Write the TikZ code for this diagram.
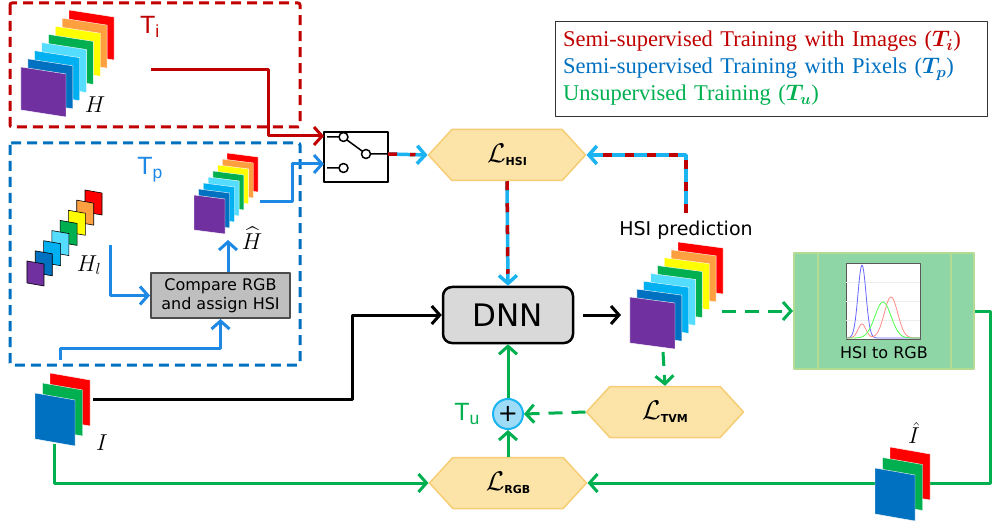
\RequirePackage{fix-cm}
\documentclass[tikz,border=0pt]{standalone}
\usepackage{amsmath,amssymb,bm}
\usepackage{fontspec}
\setmainfont{DejaVu Sans}
\newfontfamily\legendfont{Liberation Serif}
\newfontfamily\arialfont{Liberation Sans}
\usetikzlibrary{arrows.meta,shapes,calc}

\definecolor{tired}{HTML}{C00000}
\definecolor{tpblue}{HTML}{0070C0}
\definecolor{arrowblue}{HTML}{1E88E5}
\definecolor{hsiblue}{HTML}{1CB4F0}
\definecolor{tgreen}{HTML}{00B050}
\definecolor{lossfill}{HTML}{FCE4A8}
\definecolor{lossedge}{HTML}{F6CD75}
\definecolor{convfill}{HTML}{8FD6A6}
\definecolor{convedge}{HTML}{B3DC92}
\definecolor{plusfill}{HTML}{9DDBF7}
\definecolor{bred}{HTML}{FF0000}
\definecolor{borange}{HTML}{FFA040}
\definecolor{byellow}{HTML}{FFFF00}
\definecolor{bgreen}{HTML}{00B050}
\definecolor{bcyan}{HTML}{55DDFF}
\definecolor{blight}{HTML}{00B0F0}
\definecolor{bblue}{HTML}{0070C0}
\definecolor{bpurple}{HTML}{7030A0}

% stack of skewed bands: back corner, width, height, skew, step to front, colours, style
\newcommand{\bandstack}[9]{%
  \foreach \col [count=\k from 0] in {#8}
    \filldraw[fill=\col, #9] ({#1+\k*#6},{#2+\k*#7}) -- ++(#3,#5) -- ++(0,#4) -- ++(-#3,-#5) -- cycle;
}

\begin{document}
\begin{tikzpicture}[x=1pt,y=-1pt,line join=round]
        \useasboundingbox (0,0) rectangle (992,526);
        \tikzstyle{zonebox}=[dash pattern=on 10pt off 6pt, line width=3pt, rounded corners=2pt]
        \tikzstyle{tlabel}=[font=\arialfont\fontsize{25}{25}\selectfont, inner sep=0pt]
        \tikzstyle{sym}=[font=\fontsize{23}{23}\selectfont, inner sep=0pt]
        \tikzstyle{loss}=[signal, signal to=west and east, signal pointer angle=95, fill=lossfill, draw=lossedge, line width=1.5pt, minimum width=157pt, minimum height=51pt, inner sep=0pt, font=\fontsize{27}{27}\selectfont]
        \tikzstyle{chev}=[-{Straight Barb[length=8pt,width=18pt]}]
        \tikzstyle{wire}=[line width=3pt, chev]
        \tikzstyle{mixwire}=[line width=3.5pt, draw=hsiblue, chev, postaction={draw=tired, -, dash pattern=on 9pt off 13pt, shorten >=12pt}]
        \tikzstyle{gdash}=[dash pattern=on 14pt off 9pt]

        \draw[zonebox, draw=tired] (10,3) rectangle (300,127);
        \draw[zonebox, draw=tpblue] (10,143) rectangle (300,365);

        \draw node at (150,27) [tlabel, text=tired] (ti) {T\textsubscript{i}};
        \draw node at (150,170) [tlabel, text=arrowblue] (tp) {T\textsubscript{p}};
        \draw node at (467,414) [tlabel, text=tgreen] (tu) {T\textsubscript{u}};

        \bandstack{69}{10}{45}{43}{7}{-6.86}{8.14}{bred,borange,byellow,bgreen,bcyan,blight,bblue,bpurple}{draw=white,line width=0.4pt}
        \bandstack{85}{190}{17}{22}{3}{-8.29}{10.14}{bred,borange,byellow,bgreen,bcyan,blight,bblue,bpurple}{draw=black,line width=0.6pt}
        \bandstack{227}{153}{31}{35}{4}{-4.71}{6}{bred,borange,byellow,bgreen,bcyan,blight,bblue,bpurple}{draw=white,line width=0.4pt}
        \bandstack{678}{242}{45}{46}{6}{-6.86}{7.86}{bred,borange,byellow,bgreen,bcyan,blight,bblue,bpurple}{draw=white,line width=0.4pt}
        \bandstack{50}{373}{40}{46}{7}{-7.5}{10}{bred,bgreen,bblue}{draw=white,line width=0.4pt}

        \draw node at (95,105) [sym] (h) {$H$};
        \draw node at (89,265) [sym] (hl) {$H_l$};
        \draw node at (252,238) [sym] (hhat) {$\widehat{H}$};
        \draw node at (102,443) [sym] (i) {$I$};
        \draw node at (914,433) [sym] (ihat) {$\hat{I}$};
        \draw node at (686,230) [font=\fontsize{19}{19}\selectfont] (predtxt) {HSI prediction};

        \coordinate (hout) at (151,70);
        \coordinate (hlout) at (110,245);
        \coordinate (hhatin) at (228,240);
        \coordinate (hhatout) at (260,202);
        \coordinate (iout) at (93,399);
        \coordinate (itop) at (60,360);
        \coordinate (ibot) at (54,444);
        \coordinate (predin) at (621,315);
        \coordinate (predout) at (722,311);
        \coordinate (predtop) at (686,213);
        \coordinate (predbot) at (663,352);
        \coordinate (swa) at (324,136);
        \coordinate (swb) at (324,164);
        \coordinate (swc) at (388,154);

        \draw node at (220.5,295.5) [draw=gray!60!black, fill=gray!50, line width=2pt, minimum width=139pt, minimum height=45pt, inner sep=2pt, align=center, font=\fontsize{16}{19}\selectfont] (cmp) {Compare RGB\\and assign HSI};
        \draw node at (356,157) [draw=black, line width=1.5pt, minimum width=64pt, minimum height=50pt, inner sep=0pt] (sw) {};
        \draw[line width=1.5pt, fill=white] (327,137) -- (339,137) (343.5,137) circle (4.5pt) (327,168) -- (339,168) (343.5,168) circle (4.5pt) (347,140) -- (362,151) (366,154) circle (4.5pt) (370.5,154) -- (388,154);

        \draw node at (507,155) [loss] (lhsi) {$\mathcal{L}$\raisebox{-3pt}{\fontsize{11}{11}\selectfont\bfseries HSI}};
        \draw node at (665,412) [loss] (ltvm) {$\mathcal{L}$\raisebox{-3pt}{\fontsize{11}{11}\selectfont\bfseries TVM}};
        \draw node at (508,483) [loss] (lrgb) {$\mathcal{L}$\raisebox{-3pt}{\fontsize{11}{11}\selectfont\bfseries RGB}};
        \draw node at (508,315) [draw=black, fill=gray!30, line width=2.5pt, rounded corners=9pt, minimum width=130pt, minimum height=56pt, font=\fontsize{31}{31}\selectfont] (dnn) {DNN};
        \draw node at (508,414) [circle, fill=plusfill, draw=hsiblue, line width=2pt, minimum size=30pt, inner sep=0pt, font=\fontsize{24}{24}\selectfont] (plus) {+};

        \draw node at (884,311) [draw=convedge, fill=convfill, line width=2pt, minimum width=180pt, minimum height=116pt] (conv) {};
        \draw[convedge, line width=1.5pt] (818,254) -- (818,368) (951,254) -- (951,368);
        \draw[fill=white, draw=gray!70!black, line width=0.8pt] (846,263) rectangle (920,339);
        \foreach \g in {282,301,320}
            \draw[gray!15, line width=0.5pt] (846,\g) -- (920,\g);
        \draw[blue!60, line width=0.8pt] plot[domain=846:920, samples=80] (\x, {338-73*exp(-((\x-862)^2)/32)});
        \draw[red!45, line width=0.8pt] plot[domain=846:920, samples=80] (\x, {338-14*exp(-((\x-862)^2)/32)-41*exp(-((\x-891)^2)/90)});
        \draw[green!70, line width=0.8pt] plot[domain=846:920, samples=80] (\x, {338-36*exp(-((\x-883)^2)/130)});
        \draw node at (884,353) [font=\fontsize{16}{16}\selectfont] (convtxt) {HSI to RGB};

        \draw node at (771,68.5) [draw=black!80, line width=0.8pt, text width=416pt, inner sep=8pt, minimum height=95pt, align=left, font=\legendfont\fontsize{22.5}{27}\selectfont] (legend) {\textcolor{tired}{Semi-supervised Training with Images ($\bm{T_{i}}$)}\\\textcolor{tpblue}{Semi-supervised Training with Pixels ($\bm{T_{p}}$)}\\\textcolor{tgreen}{Unsupervised Training ($\bm{T_{u}}$)}};

        \draw[wire, draw=tired] (hout) -- (268,70) |- (swa);
        \draw[wire, draw=arrowblue] (hhatout) -- (292,202) |- (swb);
        \draw[wire, draw=arrowblue] (hlout) |- (cmp.west);
        \draw[wire, draw=arrowblue] (cmp.north -| hhatin) -- (hhatin);
        \draw[wire, draw=arrowblue] (itop) -- (60,348) -| (cmp.south);

        \draw[mixwire] (swc) -- (lhsi.west);
        \draw[mixwire] (predtop) |- (lhsi.east);
        \draw[mixwire] (lhsi.south) -- (dnn.north);

        \draw[wire, shorten <=9pt] (dnn.east) -- (predin);
        \draw[wire] (iout) -- (352,399) |- (dnn.west);

        \draw[wire, draw=tgreen, gdash] (predout) -- (conv.west);
        \draw[wire, draw=tgreen] (conv.east) -- (990,311) |- (lrgb.east);
        \draw[wire, draw=tgreen] (ibot) |- (lrgb.west);
        \draw[wire, draw=tgreen] (lrgb.north) -- (plus.south);
        \draw[wire, draw=tgreen] (plus.north) -- (dnn.south);
        \draw[wire, draw=tgreen, gdash] (ltvm.west) -- (plus.east);
        \draw[wire, draw=tgreen, gdash] (predbot) -- (ltvm.north);

        \bandstack{890}{447}{40}{46}{7}{-7.5}{10.5}{bred,bgreen,bblue}{draw=white,line width=0.4pt}
    \end{tikzpicture}
\end{document}
